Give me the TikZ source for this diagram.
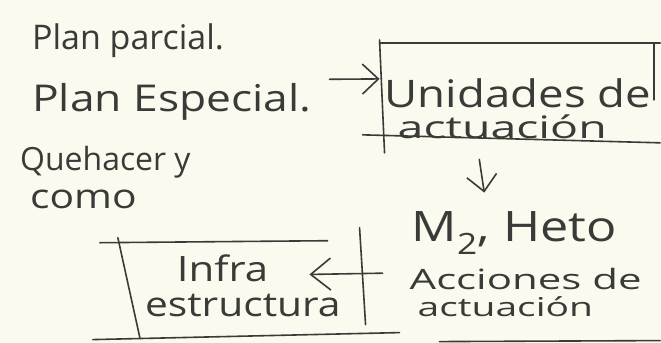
\documentclass[tikz,border=0pt]{standalone}
\usepackage{fontspec}
\usepackage{tikz}
\usetikzlibrary{arrows.meta, positioning, calc}
\newfontfamily\handtall{Open Sans}
\newfontfamily\handfont[FakeStretch=1.2]{Open Sans}
\newfontfamily\handwide[FakeStretch=1.5]{Open Sans}
\newcommand{\hwt}[1]{\handtall\fontsize{#1}{#1}\selectfont}
\newcommand{\hw}[1]{\handfont\fontsize{#1}{#1}\selectfont}
\newcommand{\hww}[1]{\handwide\fontsize{#1}{#1}\selectfont}
\definecolor{paper}{RGB}{251,250,238}
\definecolor{ink}{RGB}{58,58,56}

\begin{document}
\begin{tikzpicture}[
    x=1pt, y=-1pt,
    hand/.style={anchor=base west, inner sep=0pt, text=ink},
    stroke/.style={draw=ink, line width=1.6pt, line cap=round},
    arrow/.style={stroke, -{Straight Barb[length=16pt, width=30pt]}}
]
% paper
\fill[paper] (0,0) rectangle (661,343);

% notes on the left
\node[hand, font=\hwt{34}] (parcial) at (32,50) {Plan parcial.};
\node[hand, font=\hw{37}] (especial) at (32,112) {Plan Especial.};
\node[hand, font=\hwt{32}] (quehacer) at (20,171) {Quehacer y};
\node[hand, font=\hw{34}] (como) at (30,209) {como};

% notes on the right
\node[hand, font=\hw{38}] (unidades) at (385,108) {Unidades de};
\node[hand, font=\hww{31}] (actuacionA) at (398,139) {actuación};
\node[hand, font=\hw{42}] (m2) at (412,242) {M\textsubscript{2}, Heto};
\node[hand, font=\hww{28}] (acciones) at (410,290) {Acciones de};
\node[hand, font=\hww{26}] (actuacionB) at (418,317) {actuación};

% bottom box
\node[hand, font=\hw{35}] (infra) at (177,282) {Infra};
\node[hand, font=\hw{34}] (estructura) at (145,317) {estructura};

% box strokes round Unidades de actuacion
\coordinate (boxA) at (380,79);
\draw[stroke] (380,40) -- (385,153);
\draw[stroke] (380,43) -- (661,43);
\draw[stroke] (655,43) -- (655,100);
\draw[stroke] (363,135) -- (661,143);

% box strokes round Infra estructura
\draw[stroke] (100,243) -- (328,241);
\draw[stroke] (118,238) -- (140,338);
\draw[stroke] (93,340) -- (400,333);
\draw[stroke] (360,228) -- (366,325);

\draw[stroke] (440,342) -- (661,341);

% arrows
\draw[arrow] ([shift={(18,-23)}]especial.east) -- (boxA);
\draw[arrow] ([shift={(-23,20)}]actuacionA.south) -- ([shift={(-30,-19)}]m2.north);
\draw[arrow, -{Straight Barb[length=20pt, width=32pt]}] ([shift={(-27,-6)}]acciones.west) -- ([shift={(41,6)}]infra.east);
\end{tikzpicture}
\end{document}
